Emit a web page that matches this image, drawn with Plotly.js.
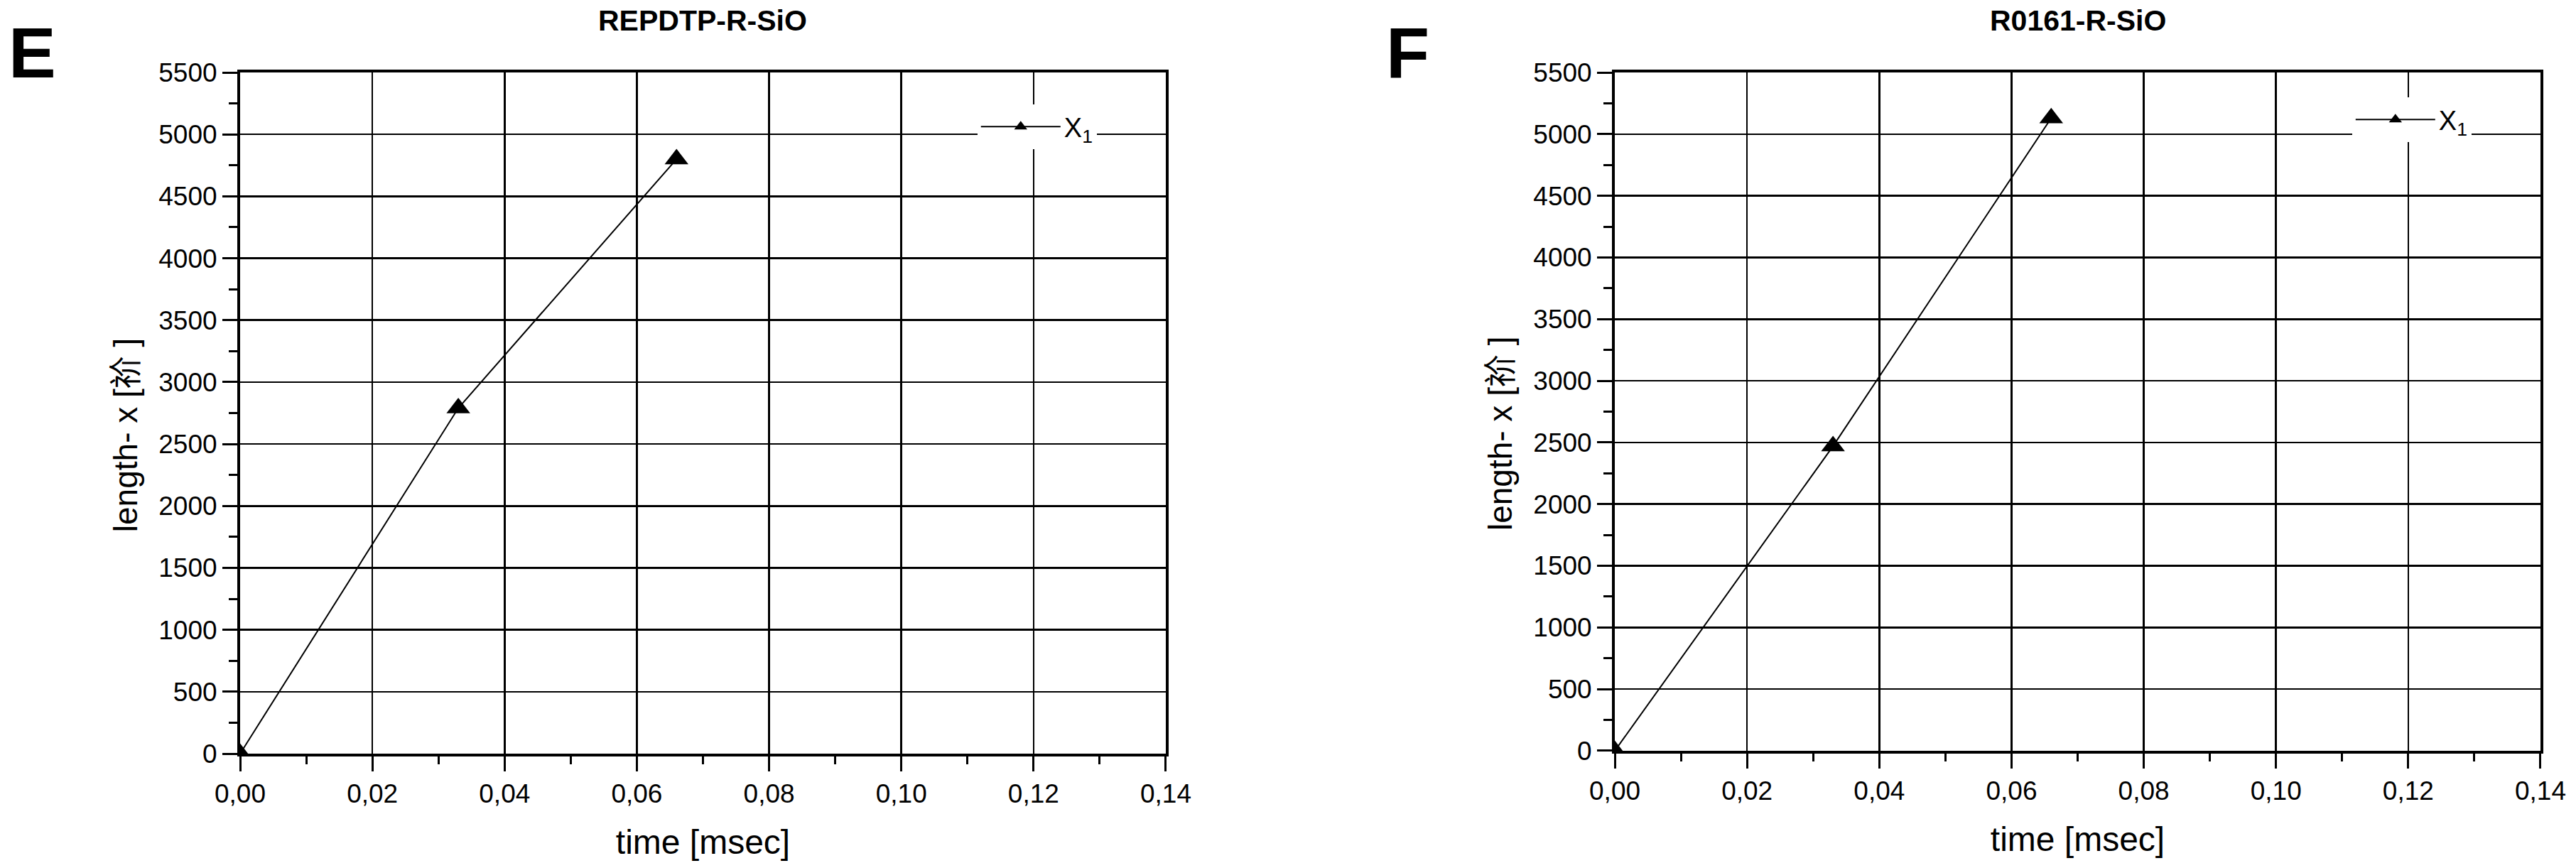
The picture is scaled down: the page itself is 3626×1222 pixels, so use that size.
<!DOCTYPE html>
<html>
<head>
<meta charset="utf-8">
<script src="https://cdn.plot.ly/plotly-3.0.1.min.js"></script>
<style>
  body { margin: 0; background: #fff; }
  #chart { width: 3626px; height: 1222px; }
</style>
</head>
<body>
<div id="chart"></div>
<script>
// time [msec] and length x for the two samples
const timeE = [0, 0.033, 0.066];
const lengthE = [0, 2790, 4800];
const timeF = [0, 0.033, 0.066];
const lengthF = [0, 2470, 5130];

const panelTitles = ["REPDTP-R-SiO", "R0161-R-SiO"];
const panelLetters = ["E", "F"];
const seriesName = "X<sub>1</sub>";
const xTitle = "time [msec]";
const yTitle = "length- x [祄 ]";

const fontFamily = "Liberation Sans, Arial, Noto Sans CJK SC, sans-serif";

function makeTrace(x, y, xa, ya, legendId) {
  return {
    x: x,
    y: y,
    xaxis: xa,
    yaxis: ya,
    legend: legendId,
    name: seriesName,
    type: "scatter",
    mode: "lines+markers",
    line: { color: "black", width: 2 },
    marker: { symbol: "triangle-up", size: 29, color: "black" },
  };
}

function xAxis(domain, anchor) {
  return {
    domain: domain,
    anchor: anchor,
    range: [0, 0.14],
    dtick: 0.02,
    tickformat: ".2f",
    ticks: "outside",
    ticklen: 21,
    tickwidth: 3,
    tickcolor: "black",
    minor: { dtick: 0.01, ticks: "outside", ticklen: 11, tickwidth: 3, tickcolor: "black", showgrid: false },
    showline: true,
    linewidth: 4,
    linecolor: "black",
    mirror: true,
    showgrid: true,
    gridcolor: "black",
    gridwidth: 2.5,
    zeroline: false,
    tickfont: { family: fontFamily, size: 37, color: "black" },
    title: { text: xTitle, standoff: 32, font: { family: fontFamily, size: 48, color: "black" } },
  };
}

function yAxis(domain, anchor) {
  return {
    domain: domain,
    anchor: anchor,
    range: [0, 5500],
    dtick: 500,
    ticks: "outside",
    ticklen: 21,
    tickwidth: 3,
    tickcolor: "black",
    minor: { dtick: 250, ticks: "outside", ticklen: 12, tickwidth: 3, tickcolor: "black", showgrid: false },
    showline: true,
    linewidth: 4,
    linecolor: "black",
    mirror: true,
    showgrid: true,
    gridcolor: "black",
    gridwidth: 2.5,
    zeroline: false,
    tickfont: { family: fontFamily, size: 37, color: "black" },
  };
}

function legendBox(x, y) {
  return {
    x: x,
    y: y,
    xanchor: "left",
    yanchor: "top",
    bgcolor: "white",
    borderwidth: 0,
    itemwidth: 112,
    font: { family: fontFamily, size: 38, color: "black" },
  };
}

// y axis title sits a little below the axis middle, as in the source figure
function yTitleNote(xref, yref) {
  return {
    text: yTitle,
    textangle: -90,
    xref: xref, yref: yref, x: 0, y: 0.468, xshift: -161,
    xanchor: "center", yanchor: "middle", showarrow: false,
    font: { family: fontFamily, size: 46, color: "black" },
  };
}

function panelTitle(text, xref, yref) {
  return {
    text: "<b>" + text + "</b>",
    xref: xref, yref: yref, x: 0.5, y: 1.076,
    xanchor: "center", yanchor: "middle", showarrow: false,
    font: { family: fontFamily, size: 41, color: "black" },
  };
}

function panelLetter(text, x) {
  return {
    text: "<b>" + text + "</b>",
    xref: "paper", yref: "paper", x: x, y: 1.029,
    xanchor: "left", yanchor: "middle", showarrow: false,
    font: { family: fontFamily, size: 100, color: "black" },
  };
}

const data = [
  makeTrace(timeE, lengthE, "x", "y", "legend"),
  makeTrace(timeF, lengthF, "x2", "y2", "legend2"),
];

const layout = {
  width: 3626,
  height: 1222,
  margin: { l: 338, r: 50, t: 102, b: 161 },
  paper_bgcolor: "white",
  plot_bgcolor: "white",
  separators: ",.",
  showlegend: true,
  xaxis: xAxis([0, 0.4024], "y"),
  yaxis: yAxis([0, 1], "x"),
  xaxis2: xAxis([0.5976, 1], "y2"),
  yaxis2: yAxis([0.0042, 1], "x2"),
  legend: legendBox(0.3205, 0.9531),
  legend2: legendBox(0.9181, 0.9635),
  annotations: [
    panelTitle(panelTitles[0], "x domain", "y domain"),
    panelTitle(panelTitles[1], "x2 domain", "y2 domain"),
    panelLetter(panelLetters[0], -0.1012),
    panelLetter(panelLetters[1], 0.4975),
    yTitleNote("x domain", "y domain"),
    yTitleNote("x2 domain", "y2 domain"),
  ],
};

Plotly.newPlot("chart", data, layout, { staticPlot: true });
</script>
</body>
</html>
